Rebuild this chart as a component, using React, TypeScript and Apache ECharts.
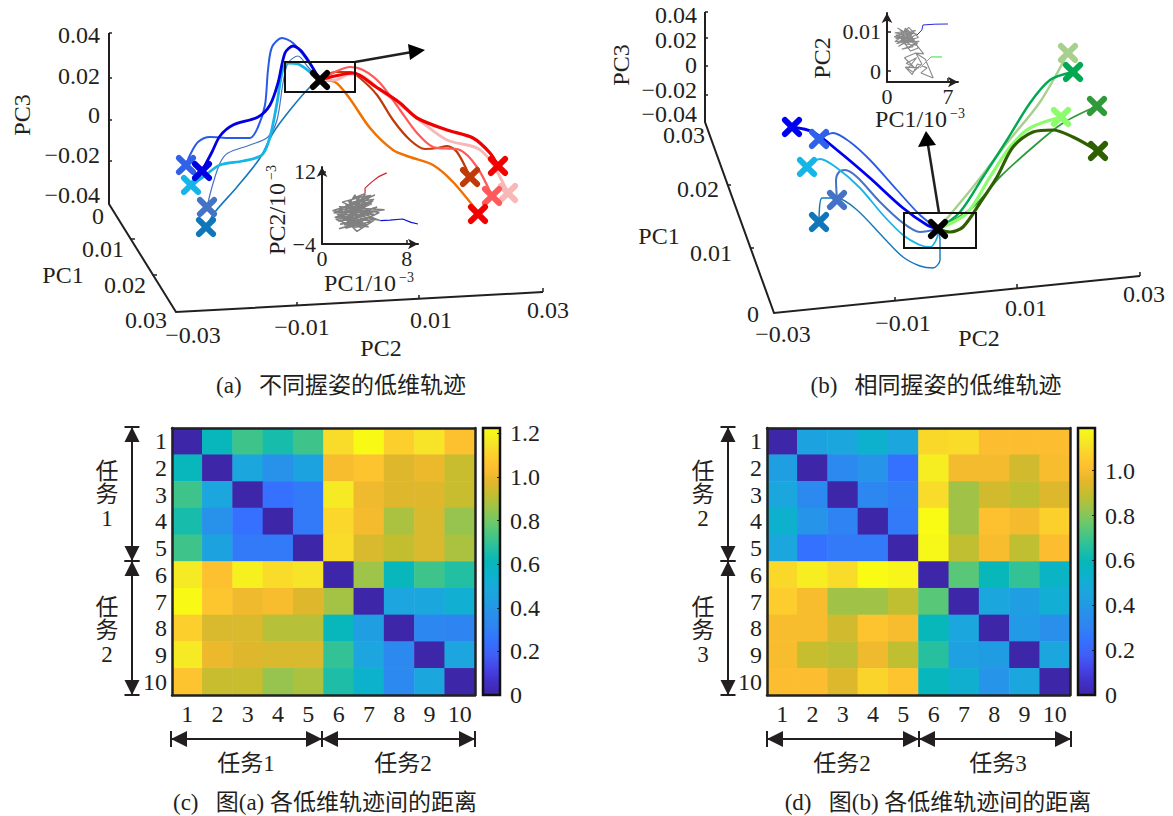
import React, { useEffect, useRef } from "react";
import * as echarts from "echarts";

type Pt = [number, number];

// ---------- categories and tick labels ----------
const heatCategories = ["1", "2", "3", "4", "5", "6", "7", "8", "9", "10"];
const pc3TickLabels = ["0.04", "0.02", "0", "−0.02", "−0.04"];
const pc1TickLabelsA = ["0", "0.01", "0.02", "0.03"];
const pc1TickLabelsB = ["0.03", "0.02", "0.01", "0"];
const pc2TickLabels = ["−0.03", "−0.01", "0.01", "0.03"];

// ---------- distance matrices ----------
const distanceC = [
  [0, 0.6, 0.72, 0.65, 0.72, 1.13, 1.22, 1.1, 1.15, 1.05],
  [0.6, 0, 0.48, 0.38, 0.46, 1.03, 1.06, 0.97, 1.0, 0.93],
  [0.72, 0.48, 0, 0.25, 0.28, 1.17, 1.01, 0.97, 0.97, 0.93],
  [0.65, 0.38, 0.25, 0, 0.28, 1.12, 1.02, 0.88, 0.96, 0.85],
  [0.72, 0.46, 0.28, 0.28, 0, 1.13, 0.96, 0.92, 0.96, 0.88],
  [1.17, 1.05, 1.19, 1.13, 1.15, 0, 0.86, 0.6, 0.72, 0.67],
  [1.22, 1.07, 1.01, 1.03, 0.97, 0.87, 0, 0.47, 0.48, 0.53],
  [1.1, 0.96, 0.96, 0.9, 0.9, 0.6, 0.43, 0, 0.33, 0.32],
  [1.17, 1.0, 0.97, 0.96, 0.96, 0.7, 0.47, 0.34, 0, 0.47],
  [1.06, 0.93, 0.93, 0.85, 0.88, 0.66, 0.55, 0.34, 0.48, 0],
];
const distanceD = [
  [0, 0.44, 0.47, 0.53, 0.47, 1.09, 1.1, 1.01, 1.01, 1.01],
  [0.42, 0, 0.33, 0.38, 0.24, 1.15, 0.99, 0.99, 0.92, 1.0],
  [0.47, 0.33, 0, 0.32, 0.28, 1.1, 0.84, 0.92, 0.89, 0.94],
  [0.53, 0.38, 0.3, 0, 0.27, 1.19, 0.84, 1.02, 0.99, 1.07],
  [0.47, 0.24, 0.27, 0.27, 0, 1.18, 0.89, 1.0, 0.89, 1.01],
  [1.09, 1.15, 1.1, 1.19, 1.17, 0, 0.74, 0.59, 0.68, 0.56],
  [1.06, 1.0, 0.84, 0.84, 0.89, 0.74, 0, 0.47, 0.42, 0.51],
  [1.0, 1.0, 0.92, 1.03, 1.0, 0.59, 0.47, 0, 0.4, 0.36],
  [1.0, 0.9, 0.88, 0.98, 0.89, 0.66, 0.43, 0.41, 0, 0.47],
  [1.01, 1.01, 0.94, 1.08, 1.03, 0.58, 0.52, 0.38, 0.47, 0],
];
const parulaColors = [
  "#3E26A8", "#4230C8", "#4544E8", "#4060F4", "#3570FF", "#2F82F2", "#2A8EEC", "#1F9EE2",
  "#1AA8DC", "#0CB2CC", "#06B8B8", "#24BFA2", "#46C684", "#70C868", "#9CC44A", "#C2BE30",
  "#E4B62C", "#FDBE30", "#FCD02C", "#F5E826", "#F9FB15",
];

// ---------- projected 3-D trajectories (panel a), in screen-projected units ----------
const trajABlue: Pt[] = [[186, 165], [190, 155], [198, 142], [210, 137], [230, 138], [250, 138], [258, 127], [265, 105], [268, 70], [272, 47], [282, 38], [293, 43], [307, 60], [320, 80]];
const trajADarkBlue: Pt[] = [[202, 171], [212, 152], [220, 136], [233, 125], [258, 117], [270, 105], [278, 83], [285, 53], [293, 46], [303, 53], [320, 80]];
const trajASteel: Pt[] = [[207, 207], [212, 187], [220, 163], [228, 153], [250, 145], [268, 137], [277, 120], [283, 83], [288, 63], [298, 56], [308, 67], [320, 80]];
const trajACyan: Pt[] = [[191, 185], [203, 177], [220, 165], [243, 161], [262, 155], [270, 137], [277, 103], [282, 73], [287, 63], [298, 64], [310, 72], [320, 80]];
const trajADeep: Pt[] = [[206, 227], [215, 212], [237, 187], [260, 158], [273, 133], [290, 110], [310, 87], [320, 80]];
const trajARed: Pt[] = [[320, 80], [335, 76], [353, 73], [376, 87], [400, 103], [417, 118], [447, 130], [473, 138], [490, 153], [498, 166]];
const trajAPink: Pt[] = [[320, 80], [335, 80], [350, 74], [360, 75], [383, 92], [403, 107], [423, 123], [447, 140], [477, 148], [490, 160], [500, 177], [508, 193]];
const trajASalmon: Pt[] = [[320, 80], [335, 72], [350, 67], [363, 70], [380, 83], [400, 110], [417, 133], [433, 147], [460, 150], [477, 167], [492, 196]];
const trajABrown: Pt[] = [[320, 80], [335, 72], [350, 72], [360, 78], [377, 95], [393, 120], [410, 140], [425, 149], [438, 148], [447, 146], [457, 152], [470, 177]];
const trajAOrange: Pt[] = [[320, 80], [335, 82], [350, 99], [370, 128], [393, 150], [410, 157], [433, 165], [453, 182], [478, 212]];

// ---------- projected 3-D trajectories (panel b) ----------
const trajBDarkBlue: Pt[] = [[792, 127], [813, 132], [837, 150], [870, 178], [903, 208], [927, 225], [938, 229]];
const trajBBlue: Pt[] = [[819, 139], [833, 133], [850, 142], [870, 160], [897, 190], [920, 215], [938, 229]];
const trajBSteel: Pt[] = [[837, 200], [836, 180], [839, 172], [845, 170], [857, 177], [880, 202], [903, 223], [920, 232], [938, 229]];
const trajBCyan: Pt[] = [[807, 167], [820, 159], [837, 168], [860, 188], [883, 215], [903, 235], [920, 245], [930, 247], [937, 238], [938, 229]];
const trajBDeep: Pt[] = [[819, 222], [822, 198], [837, 198], [857, 210], [883, 237], [903, 257], [920, 266], [933, 268], [940, 260], [940, 240], [938, 229]];
const trajBPale: Pt[] = [[938, 229], [973, 187], [1007, 143], [1040, 102], [1068, 53]];
const trajBGreen: Pt[] = [[938, 229], [960, 212], [983, 177], [1007, 140], [1030, 103], [1050, 80], [1073, 72]];
const trajBLight: Pt[] = [[938, 229], [967, 213], [990, 177], [1010, 147], [1030, 128], [1061, 117]];
const trajBMid: Pt[] = [[938, 229], [973, 207], [1000, 177], [1033, 147], [1063, 123], [1097, 106]];
const trajBOlive: Pt[] = [[938, 229], [950, 232], [963, 227], [980, 203], [997, 177], [1013, 147], [1033, 132], [1053, 130], [1073, 137], [1098, 151]];

const blackCrossA: Pt = [320, 80];
const blackCrossB: Pt = [938, 229];

// ---------- inset (a): PC1/10^-3 vs PC2/10^-3 ----------
const insetAGrey: Pt[] = [
  [4.1, 7.2], [3.0, 6.2], [4.6, 6.8], [2.6, 4.9], [4.3, 5.8], [1.8, 3.9], [3.4, 5.2], [1.0, 3.4], [2.7, 3.0], [4.7, 4.9],
  [2.2, 4.6], [3.9, 3.9], [5.9, 3.6], [3.6, 2.9], [5.2, 4.2], [2.4, 2.2], [4.4, 2.5], [1.4, 2.6], [3.1, 1.6], [1.5, 1.1],
  [3.5, 2.0], [2.1, 0.2], [3.9, 0.8], [1.6, -0.6], [3.0, 0.4], [4.4, -0.2], [2.7, 1.2], [5.0, 1.4], [3.3, -1.2], [2.4, 0.9],
  [4.0, 3.2], [1.9, 5.3], [3.6, 6.4], [2.3, 3.5], [4.9, 2.6], [1.2, 1.9], [3.2, 3.7], [5.4, 3.0], [2.9, 0.1], [1.8, 2.9],
  [4.2, 4.4], [2.0, 1.6], [3.7, -0.4], [2.5, 5.6], [4.5, 3.4], [1.1, 2.9], [2.8, 4.2], [3.5, 1.0], [1.7, 0.4], [4.1, 1.7],
  [3.1, 6.9], [2.1, 3.0], [3.8, 4.7], [1.5, 3.3], [3.0, 5.4], [4.9, 5.9], [2.6, 2.6], [4.6, 1.0], [2.2, -0.5], [3.4, 0.6],
  [1.9, 2.0], [3.7, 2.4], [5.1, 3.3], [2.7, 3.8], [4.0, 5.3], [2.9, 2.0], [1.3, 1.5], [3.2, -0.3], [4.2, 0.3], [2.5, 1.7],
  [3.6, 3.5], [1.6, 4.3], [3.3, 4.1], [4.4, 4.9], [2.4, 4.0], [5.5, 1.2], [3.0, 2.5], [4.8, 5.6], [3.3, 4.6], [2.2, 2.9],
  [3.8, 5.0], [4.4, 6.2], [5.0, 6.9], [3.6, 5.6], [4.1, 7.2],
];
const insetARed: Pt[] = [[4.06, 7.3], [4.06, 8.4], [4.7, 9.8], [5.3, 10.9], [6.1, 11.8]];
const insetABlue: Pt[] = [[5.5, 1.2], [6.4, 1.3], [7.6, 1.55], [8.4, 0.8], [9.05, 0.45]];

// ---------- inset (b): PC1/10^-3 vs PC2 (10^-3 units on the value scale) ----------
const insetBGrey: Pt[] = [
  [1.2, 11.0], [2.8, 9.0], [0.9, 9.8], [3.3, 10.4], [1.0, 8.2], [2.5, 11.2], [3.6, 8.6], [1.1, 7.0], [2.9, 10.0], [0.8, 8.8],
  [3.1, 7.5], [1.5, 10.4], [3.4, 9.5], [1.3, 6.3], [2.6, 8.0], [0.9, 7.5], [2.2, 9.6], [3.5, 7.0], [1.7, 5.6], [3.0, 6.2],
  [1.5, 8.6], [2.7, 5.1], [3.6, 5.9], [2.4, 10.6], [1.1, 9.0], [3.2, 8.2], [1.9, 7.0], [3.4, 6.6], [1.4, 9.6], [2.9, 7.8],
  [1.0, 9.2], [3.0, 9.6], [1.8, 8.0], [2.4, 6.0], [3.7, 7.6], [1.6, 7.4], [2.1, 11.0], [2.8, 8.4], [4.2, 4.4], [3.3, 4.6],
  [2.0, 3.4], [3.1, 1.0], [2.2, 2.0], [3.4, 3.4], [2.4, 0.6], [3.0, -0.3], [4.0, 1.8], [3.3, 4.6], [4.4, 3.0], [5.3, -1.8],
  [3.9, -0.5], [4.6, 0.8], [3.5, 1.8], [2.9, -0.9], [2.1, 1.0], [3.7, 0.8],
];
const insetBBlue: Pt[] = [[3.44, 9.2], [4.0, 10.5], [4.13, 11.8], [5.5, 12.0], [7.0, 12.05]];
const insetBGreen: Pt[] = [[3.79, 0.8], [4.36, 2.05], [5.05, 3.6], [6.31, 3.6]];

// ---------- styles ----------
const INK = "#231f20";
const FONT = "'Liberation Serif','Noto Sans CJK SC',serif";
const FS = 24;
const INSET_FS = 22;
const CJK_FS = 23;
const CROSS =
  "path://M1.05 6.15A3.6 3.6 0 0 1 6.15 1.05L12 6.91L17.85 1.05A3.6 3.6 0 0 1 22.95 6.15L17.09 12L22.95 17.85A3.6 3.6 0 0 1 17.85 22.95L12 17.09L6.15 22.95A3.6 3.6 0 0 1 1.05 17.85L6.91 12Z";

const txt = (text: string, x: number, y: number, extra: any = {}) => ({
  type: "text",
  x,
  y,
  z: 20,
  rotation: extra.rotation || 0,
  style: {
    text,
    fill: INK,
    font: `${extra.size || FS}px ${FONT}`,
    align: extra.align || "center",
    verticalAlign: "middle",
    rich: extra.rich,
  },
});
const seg = (a: Pt, b: Pt, w = 2) => ({
  type: "line",
  z: 20,
  shape: { x1: a[0], y1: a[1], x2: b[0], y2: b[1] },
  style: { stroke: INK, lineWidth: w },
});
const tri = (p: Pt[], fill = INK) => ({ type: "polygon", z: 20, shape: { points: p }, style: { fill } });

const vArrowPair = (x: number, y0: number, y1: number, y2: number) => {
  const h = 7.5;
  const l = 15;
  const out: any[] = [];
  for (const [a, b] of [[y0, y1], [y1, y2]]) {
    out.push(seg([x, a], [x, b]));
    out.push(tri([[x, a], [x - h, a + l], [x + h, a + l]]));
    out.push(tri([[x, b], [x - h, b - l], [x + h, b - l]]));
    out.push(seg([x - h, a], [x + h, a]));
    out.push(seg([x - h, b], [x + h, b]));
  }
  return out;
};
const hArrowPair = (y: number, x0: number, x1: number, x2: number) => {
  const h = 8;
  const l = 16;
  const out: any[] = [];
  for (const [a, b] of [[x0, x1], [x1, x2]]) {
    out.push(seg([a, y], [b, y]));
    out.push(tri([[a, y], [a + l, y - h], [a + l, y + h]]));
    out.push(tri([[b, y], [b - l, y - h], [b - l, y + h]]));
    out.push(seg([a, y - h], [a, y + h]));
    out.push(seg([b, y - h], [b, y + h]));
  }
  return out;
};
const rect = (x: number, y: number, w: number, h: number, lw = 2) => ({
  type: "rect",
  z: 20,
  shape: { x, y, width: w, height: h },
  style: { fill: "none", stroke: "#111", lineWidth: lw },
});

const superRich = { s: { fontSize: 14, fontFamily: "'Liberation Serif'", fill: INK, verticalAlign: "top", padding: [0, 0, 12, 3] } };

function buildGraphic() {
  const g: any[] = [];
  // ---- panel (a) axes
  g.push({ type: "polyline", z: 20, shape: { points: [[109, 33], [109, 204], [176, 312], [543, 292]] }, style: { stroke: INK, lineWidth: 2, fill: "none" } });
  [33, 78, 120, 161].forEach((y) => g.push(seg([109, y], [112, y], 1.5)));
  ([[135, 239], [157, 275]] as Pt[]).forEach((p) => g.push(seg(p, [p[0] - 4, p[1]], 1.5)));
  ([[297, 306], [419, 299], [543, 292]] as Pt[]).forEach((p) => g.push(seg(p, [p[0], p[1] - 4], 1.5)));
  const p3a: Pt[] = [[100, 35], [100, 76], [100, 115], [100, 155], [100, 195]];
  pc3TickLabels.forEach((t, i) => g.push(txt(t, p3a[i][0], p3a[i][1], { align: "right" })));
  const p1a: Pt[] = [[98, 216], [103, 249], [125, 285], [146, 320]];
  pc1TickLabelsA.forEach((t, i) => g.push(txt(t, p1a[i][0], p1a[i][1])));
  const p2a: Pt[] = [[193, 335], [302, 327], [431, 320], [548, 310]];
  pc2TickLabels.forEach((t, i) => g.push(txt(t, p2a[i][0], p2a[i][1])));
  g.push(txt("PC3", 22, 115, { rotation: Math.PI / 2 }));
  g.push(txt("PC1", 63, 275));
  g.push(txt("PC2", 381, 348));
  g.push(txt("(a)   不同握姿的低维轨迹", 341, 385, { size: CJK_FS }));
  g.push(rect(285, 62, 70, 30));
  g.push(seg([355, 62], [412, 52], 2.5));
  g.push(tri([[425, 50], [408, 44], [410, 60]], "#000"));
  g.push(txt("PC2/10{s|−3}", 277, 210, { rotation: Math.PI / 2, rich: superRich, size: FS }));
  g.push(txt("PC1/10{s|−3}", 369, 283, { rich: superRich }));

  // ---- panel (b) axes
  g.push({ type: "polyline", z: 20, shape: { points: [[705, 12], [705, 122], [774, 313], [1140, 276]] }, style: { stroke: INK, lineWidth: 2, fill: "none" } });
  [12, 38, 66, 95].forEach((y) => g.push(seg([705, y], [708, y], 1.5)));
  ([[731, 185], [754, 248]] as Pt[]).forEach((p) => g.push(seg(p, [p[0] - 4, p[1]], 1.5)));
  ([[895, 301], [1017, 288], [1140, 276]] as Pt[]).forEach((p) => g.push(seg(p, [p[0], p[1] - 4], 1.5)));
  const p3b: Pt[] = [[697, 15], [697, 40], [697, 65], [697, 90], [697, 114]];
  pc3TickLabels.forEach((t, i) => g.push(txt(t, p3b[i][0], p3b[i][1], { align: "right" })));
  const p1b: Pt[] = [[684, 135], [698, 189], [711, 253], [753, 314]];
  pc1TickLabelsB.forEach((t, i) => g.push(txt(t, p1b[i][0], p1b[i][1])));
  const p2b: Pt[] = [[783, 334], [903, 323], [1026, 308], [1144, 294]];
  pc2TickLabels.forEach((t, i) => g.push(txt(t, p2b[i][0], p2b[i][1])));
  g.push(txt("PC3", 621, 65, { rotation: Math.PI / 2 }));
  g.push(txt("PC1", 659, 236));
  g.push(txt("PC2", 979, 338));
  g.push(txt("(b)   相同握姿的低维轨迹", 936, 385, { size: CJK_FS }));
  g.push(rect(904, 213, 72, 35));
  g.push(seg([939, 213], [928, 145], 2.5));
  g.push(tri([[926, 131], [918, 147], [936, 145]], "#000"));
  g.push(txt("PC2", 822, 58, { rotation: Math.PI / 2 }));
  g.push(txt("PC1/10{s|−3}", 920, 119, { rich: superRich }));

  // ---- panels (c), (d) annotations
  g.push(...vArrowPair(132, 427, 561, 695));
  g.push(...vArrowPair(728, 427, 561, 695));
  g.push(...hArrowPair(739, 171, 322, 475));
  g.push(...hArrowPair(739, 767, 919, 1071));
  const left = (x: number, a: string, b: string) => {
    [["任", 471], ["务", 494], [a, 518], ["任", 607], ["务", 630], [b, 654]].forEach((e) =>
      g.push(txt(e[0] as string, x, e[1] as number, { size: CJK_FS }))
    );
  };
  left(107, "1", "2");
  left(703, "2", "3");
  g.push(
    txt("任务1", 246, 763, { size: CJK_FS }),
    txt("任务2", 403, 763, { size: CJK_FS }),
    txt("任务2", 842, 763, { size: CJK_FS }),
    txt("任务3", 998, 763, { size: CJK_FS })
  );
  g.push(txt("(c)   图(a) 各低维轨迹间的距离", 325, 802, { size: CJK_FS }));
  g.push(txt("(d)   图(b) 各低维轨迹间的距离", 938, 802, { size: CJK_FS }));
  g.push(rect(483, 428, 17, 267, 2.5), rect(1078, 428, 17, 267, 2.5));
  return g;
}

export default function App() {
  const ref = useRef<HTMLDivElement>(null);
  useEffect(() => {
    const chart = echarts.init(ref.current!, undefined, { renderer: "svg" });

    const traj = (data: Pt[], color: string, width: number) => ({
      type: "line",
      xAxisIndex: 0,
      yAxisIndex: 0,
      data,
      smooth: 0.3,
      showSymbol: false,
      silent: true,
      z: 3,
      lineStyle: { color, width },
    });
    const cross = (p: Pt, color: string, z = 4) => ({
      type: "scatter",
      xAxisIndex: 0,
      yAxisIndex: 0,
      data: [p],
      symbol: CROSS,
      symbolSize: 20,
      silent: true,
      z,
      itemStyle: { color, opacity: 1 },
    });
    const inset = (data: Pt[], color: string, idx: number, width = 1) => ({
      type: "line",
      xAxisIndex: idx,
      yAxisIndex: idx,
      data,
      showSymbol: false,
      silent: true,
      z: 3,
      lineStyle: { color, width },
    });

    const insetXAxis = (gridIndex: number, max: number, ticks: number[]) => ({
      type: "value",
      gridIndex,
      min: 0,
      max,
      position: "bottom",
      splitLine: { show: false },
      axisLine: { onZero: false, symbol: ["none", "arrow"], symbolSize: [8, 10], lineStyle: { color: INK, width: 2 } },
      axisTick: { customValues: ticks, inside: true, length: 4, lineStyle: { color: INK, width: 1.5 } },
      axisLabel: { customValues: ticks, margin: 3, color: INK, fontFamily: FONT, fontSize: INSET_FS },
    });
    const insetYAxis = (gridIndex: number, min: number, max: number, ticks: number[], fmt: (v: number) => string) => ({
      type: "value",
      gridIndex,
      min,
      max,
      position: "left",
      splitLine: { show: false },
      axisLine: { onZero: false, symbol: ["none", "arrow"], symbolSize: [8, 10], lineStyle: { color: INK, width: 2 } },
      axisTick: { customValues: ticks, inside: true, length: 4, lineStyle: { color: INK, width: 1.5 } },
      axisLabel: { customValues: ticks, margin: 6, color: INK, fontFamily: FONT, fontSize: INSET_FS, formatter: fmt },
    });

    const heatAxis = (kind: "x" | "y", gridIndex: number, main: boolean) => ({
      type: "category",
      gridIndex,
      data: heatCategories,
      position: kind === "x" ? (main ? "bottom" : "top") : main ? "left" : "right",
      inverse: kind === "y",
      z: 6,
      axisLine: { onZero: false, lineStyle: { color: "#222", width: 2.5 } },
      axisTick: { inside: true, length: 3, lineStyle: { color: "#222", width: 1 } },
      axisLabel: { show: main, margin: kind === "x" ? 7 : 5, color: INK, fontFamily: FONT, fontSize: FS, interval: 0 },
      splitLine: { show: false },
    });

    const barAxisX = (gridIndex: number) => ({
      type: "category",
      gridIndex,
      data: ["colorbar"],
      show: false,
    });
    const barAxisY = (gridIndex: number, max: number) => ({
      type: "value",
      gridIndex,
      min: 0,
      max,
      interval: 0.2,
      position: "right",
      z: 6,
      splitLine: { show: false },
      axisLine: { show: false },
      axisTick: { show: true, inside: true, length: 3, lineStyle: { color: "#222", width: 1 } },
      axisLabel: {
        margin: 10,
        showMaxLabel: false,
        color: INK,
        fontFamily: FONT,
        fontSize: FS,
        formatter: (v: number) => (v === 0 ? "0" : v.toFixed(1)),
      },
    });

    const heatData = (m: number[][]) => m.flatMap((row, y) => row.map((v, x) => [x, y, v]));
    const gradient = () =>
      new echarts.graphic.LinearGradient(
        0, 1, 0, 0,
        parulaColors.map((color, i) => ({ offset: i / (parulaColors.length - 1), color }))
      );

    const bar = (idx: number, max: number) => ({
      type: "bar",
      xAxisIndex: idx,
      yAxisIndex: idx,
      data: [max],
      barWidth: "100%",
      silent: true,
      itemStyle: { color: gradient() },
    });

    chart.setOption({
      animation: false,
      backgroundColor: "#fff",
      textStyle: { fontFamily: FONT },
      grid: [
        { left: 0, top: 0, width: 1173, height: 816 },
        { left: 322, top: 167, width: 96, height: 77 },
        { left: 887, top: 13, width: 71, height: 69 },
        { left: 172, top: 428, width: 303, height: 267 },
        { left: 767, top: 428, width: 303, height: 267 },
        { left: 483, top: 428, width: 17, height: 267 },
        { left: 1078, top: 428, width: 17, height: 267 },
      ],
      xAxis: [
        { type: "value", gridIndex: 0, min: 0, max: 1173, show: false },
        insetXAxis(1, 9.05, [0, 8]),
        insetXAxis(2, 8.15, [0, 7]),
        heatAxis("x", 3, true),
        heatAxis("x", 4, true),
        barAxisX(5),
        barAxisX(6),
        heatAxis("x", 3, false),
        heatAxis("x", 4, false),
      ],
      yAxis: [
        { type: "value", gridIndex: 0, min: 0, max: 816, inverse: true, show: false },
        insetYAxis(1, -4, 13.1, [-4, 12], (v) => String(v).replace("-", "−")),
        insetYAxis(2, -2.82, 14.87, [0, 10], (v) => (v === 0 ? "0" : "0.01")),
        heatAxis("y", 3, true),
        heatAxis("y", 4, true),
        barAxisY(5, 1.225),
        barAxisY(6, 1.19),
        heatAxis("y", 3, false),
        heatAxis("y", 4, false),
      ],
      visualMap: [
        { show: false, seriesIndex: 0, dimension: 2, min: 0, max: 1.225, inRange: { color: parulaColors } },
        { show: false, seriesIndex: 1, dimension: 2, min: 0, max: 1.19, inRange: { color: parulaColors } },
      ],
      series: [
        { type: "heatmap", xAxisIndex: 3, yAxisIndex: 3, data: heatData(distanceC), silent: true },
        { type: "heatmap", xAxisIndex: 4, yAxisIndex: 4, data: heatData(distanceD), silent: true },
        bar(5, 1.225),
        bar(6, 1.19),

        traj(trajADeep, "#1477BC", 1.6),
        traj(trajASteel, "#4472C4", 1.2),
        traj(trajABlue, "#2A5BE8", 2),
        traj(trajACyan, "#17B4E8", 2.8),
        traj(trajADarkBlue, "#0000E0", 2.8),
        traj(trajAOrange, "#F07000", 2.5),
        traj(trajABrown, "#C03A08", 2.2),
        traj(trajAPink, "#F8B8B8", 3),
        traj(trajASalmon, "#FF5A5A", 2.2),
        traj(trajARed, "#F00000", 3.2),
        cross([206, 227], "#0F76BA"),
        cross([207, 207], "#4472C4"),
        cross([186, 165], "#2F62E8"),
        cross([191, 185], "#17B4E8"),
        cross([202, 171], "#0000E0"),
        cross([508, 193], "#F8B8B8"),
        cross([492, 196], "#FF5A5A"),
        cross([470, 177], "#C03A08"),
        cross([498, 166], "#F00000"),
        cross([478, 214], "#F00000"),
        cross(blackCrossA, "#000", 6),

        traj(trajBDeep, "#1477BC", 1.4),
        traj(trajBSteel, "#4472C4", 2),
        traj(trajBCyan, "#17B4E8", 1.8),
        traj(trajBBlue, "#2A5BE8", 1.8),
        traj(trajBDarkBlue, "#0000F0", 2.8),
        traj(trajBPale, "#A8D08D", 2.4),
        traj(trajBGreen, "#00A850", 2.4),
        traj(trajBMid, "#2E9A3A", 1.8),
        traj(trajBLight, "#8CFC6C", 3.2),
        traj(trajBOlive, "#2F6000", 3.2),
        cross([819, 222], "#0F76BA"),
        cross([837, 200], "#4472C4"),
        cross([807, 167], "#17B4E8"),
        cross([792, 127], "#0000F0"),
        cross([819, 139], "#2F62E8"),
        cross([1068, 53], "#A8D08D"),
        cross([1073, 72], "#00A850"),
        cross([1061, 117], "#8CFC6C"),
        cross([1097, 106], "#2E9A3A"),
        cross([1098, 151], "#2F6000"),
        cross(blackCrossB, "#000", 6),

        inset(insetAGrey, "#808080", 1, 1.5),
        inset(insetARed, "#D82030", 1, 1.2),
        inset(insetABlue, "#1010D8", 1, 1.2),
        inset(insetBGrey, "#8A8A8A", 2, 1.1),
        inset(insetBBlue, "#2828E0", 2, 1),
        inset(insetBGreen, "#30E040", 2, 1),
      ],
      graphic: buildGraphic(),
    });
    return () => chart.dispose();
  }, []);
  return <div ref={ref} style={{ position: "absolute", left: 0, top: 0, width: 1173, height: 816 }} />;
}
